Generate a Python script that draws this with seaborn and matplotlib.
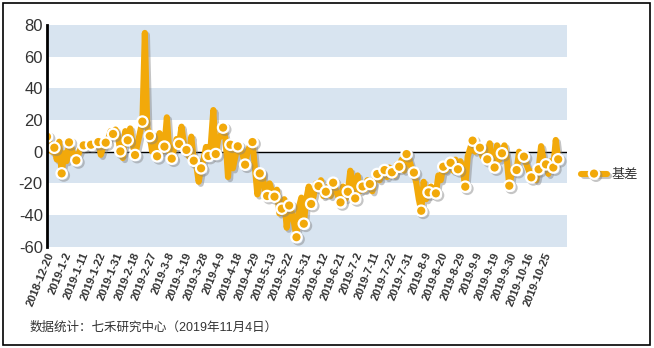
import matplotlib
matplotlib.use("Agg")
import matplotlib.pyplot as plt
import matplotlib.patheffects as pe
from matplotlib.patches import Rectangle
import seaborn as sns
import pandas as pd

# ---- data (daily basis values, trading days 2018-12-20 .. 2019-11-04) ----
basis = [
    9.5, 5, 0, 2.5, -5, 6.3, -13.7, -1, -6, 5.9,
    2, -3, -5.5, -1, 3, 4, 3, 5, 4.4, 5,
    4, 6.1, -2, 3, 5.7, 8, 13, 11.2, 14, 10,
    0.2, -4, 13, 7.2, 14.7, 5, -2.1, 5, 12, 19,
    75, 15, 9.9, 0, 8, -2.9, 11.7, 0, 3.2, 21.7,
    0, -4.4, 2, 8, 4.9, 15.8, 5, 1.1, -3, 9.5,
    -5.7, -8, -19, -10.5, -5, 3, -2.7, 5, 26.3, -1.5,
    8, 10, 15.2, 8, -16, 4.4, -10.5, -3, 3.4, 3,
    -2, -8.2, 0, 4, 6.1, -10, -27, -13.7, -13, -25,
    -28, -20, -25, -28.4, -24, -39, -36, -30, -48, -34,
    -38, -45, -54, -35, -29, -45.5, -30, -22, -33, -28,
    -20, -21.7, -18, -28, -25.3, -22, -28, -19.6, -24, -28,
    -32, -22, -30, -25.3, -12, -20, -29.5, -15, -25, -22,
    -24, -18, -20.4, -25, -17, -14.1, -18, -12, -11.6, -16,
    -10, -13, -15, -8, -9.5, -5, -12, -1.5, -5, -10,
    -13.2, -20, -30, -37.3, -19, -30, -25.7, -22, -24, -26.3,
    -15, -18, -9.5, -12, -8, -7, -12, -5, -11.1, -6,
    -12, -22.1, -3, 2, 7, 0, 5, 2.5, -3, 0,
    -4.8, 5.3, -8, -10, 4, -5, -1, 4, -5, -21.5,
    -14, -10, -11.6, 0, -5, -3.1, -8, -12, -16.2, -12,
    -18, -11.1, 3.5, -5, -8, -14, -6, -10, 7.4, -4.8,
]
tick_labels = [
    "2018-12-20", "2019-1-2", "2019-1-11", "2019-1-22", "2019-1-31",
    "2019-2-18", "2019-2-27", "2019-3-8", "2019-3-19", "2019-3-28",
    "2019-4-9", "2019-4-18", "2019-4-29", "2019-5-13", "2019-5-22",
    "2019-5-31", "2019-6-12", "2019-6-21", "2019-7-2", "2019-7-11",
    "2019-7-22", "2019-7-31", "2019-8-9", "2019-8-20", "2019-8-29",
    "2019-9-9", "2019-9-19", "2019-9-30", "2019-10-16", "2019-10-25",
]
series_name = "基差"
source_note = "数据统计：七禾研究中心（2019年11月4日）"

df = pd.DataFrame({"idx": range(len(basis)), series_name: basis})

sns.set_style("white")
plt.rcParams["font.family"] = ["Liberation Sans", "Noto Sans CJK SC", "DejaVu Sans"]

fig = plt.figure(figsize=(6.54, 3.48), dpi=100)
ax = fig.add_axes([47 / 654, 1 - 246.7 / 348, 520 / 654, (246.7 - 25) / 348])

# alternating bands
band_color = "#D8E4F0"
for lo, hi in [(60, 80), (20, 40), (-20, 0), (-60, -40)]:
    ax.axhspan(lo, hi, color=band_color, lw=0, zorder=0)
ax.axhline(0, color="black", lw=1.0, zorder=1)

line_color = "#F2A90A"
mark_idx = list(range(0, len(basis), 3)) + [len(basis) - 1]
sns.lineplot(
    data=df, x="idx", y=series_name, ax=ax, color=line_color, lw=4.4,
    marker="o", markersize=7.5, markerfacecolor=line_color,
    markeredgecolor="white", markeredgewidth=1.6, markevery=mark_idx,
    label=series_name, estimator=None, sort=False, zorder=3,
)
ax.lines[-1].set_path_effects([
    pe.SimpleLineShadow(offset=(1.5, -1.5), shadow_color="gray", alpha=0.45),
    pe.Normal(),
])

ax.set_xlim(0, 212.6)
ax.set_ylim(-60, 80)
ax.set_yticks(range(-60, 81, 20))
ax.set_yticklabels([str(v) for v in range(-60, 81, 20)], fontsize=12, color="#333333")
ax.set_xticks(range(0, 7 * len(tick_labels), 7))
ax.set_xticklabels(tick_labels, rotation=68, ha="right", va="top",
                   rotation_mode="anchor", fontsize=8, fontweight="bold", color="#333333")
ax.tick_params(axis="both", length=0, pad=3)
ax.set_xlabel("")
ax.set_ylabel("")
for s in ["top", "right", "bottom"]:
    ax.spines[s].set_visible(False)
ax.spines["left"].set_color("black")
ax.spines["left"].set_linewidth(2)
ax.spines["left"].set_zorder(4)

leg = ax.legend(loc="center left", bbox_to_anchor=(1.005, 0.323), frameon=False,
                fontsize=9.5, handlelength=1.9, handletextpad=0.4, numpoints=1)
for t in leg.get_texts():
    t.set_color("#333333")

fig.text(30 / 654, 1 - 328 / 348, source_note, fontsize=9, color="#333333",
         va="center", ha="left")

fig.patches.append(Rectangle((3 / 654, 3 / 348), 647 / 654, 342 / 348,
                             transform=fig.transFigure, fill=False,
                             edgecolor="black", lw=1.2))

fig.savefig("out.png", dpi=100)
